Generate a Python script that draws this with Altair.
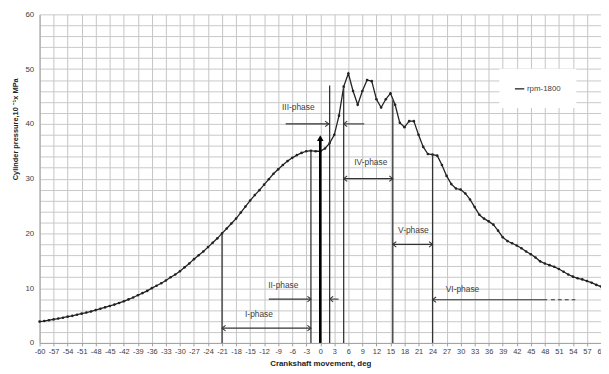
import altair as alt
import pandas as pd

# ---- data ----
deg = list(range(-60, 61))
pressure = [
    3.9, 4.0, 4.15, 4.3, 4.45, 4.6, 4.8, 4.95, 5.15, 5.35,
    5.55, 5.75, 6.0, 6.25, 6.5, 6.75, 7.0, 7.3, 7.6, 7.95,
    8.3, 8.7, 9.1, 9.5, 10.0, 10.45, 10.9, 11.4, 12.0, 12.5,
    13.1, 13.8, 14.5, 15.3, 16.0, 16.7, 17.5, 18.3, 19.1, 20.0,
    20.9, 21.8, 22.7, 23.8, 24.9, 26.0, 27.0, 27.9, 28.9, 29.9,
    30.9, 31.7, 32.5, 33.2, 33.8, 34.3, 34.7, 35.0, 35.1, 35.0,
    35.0, 35.5, 36.5, 38.0, 41.5, 46.8, 49.2, 46.0, 43.5, 46.0,
    48.0, 47.8, 44.5, 43.0, 44.5, 45.6, 43.5, 40.2, 39.4, 40.5,
    40.5, 38.0, 35.8, 34.5, 34.4, 34.2, 32.5, 30.5, 29.0, 28.2,
    28.0, 27.3, 26.2, 24.8, 23.4, 22.7, 22.2, 21.6, 20.5, 19.3,
    18.6, 18.2, 17.8, 17.3, 16.7, 16.2, 15.6, 14.9, 14.5, 14.2,
    13.9, 13.5, 13.0, 12.5, 12.1, 11.8, 11.6, 11.3, 11.0, 10.6,
    10.3,
]
series_name = "rpm-1800"

# phase boundary lines (deg, top value)
vline_x = [-21, -2, 2, 5, 15.5, 24]
vline_top = [20.0, 35.1, 47.0, 46.8, 44.3, 34.4]
tdc_x = [0]
tdc_top = [37.4]

# horizontal arrow shafts
seg_x = [-21, -11, 2, -7.4, 5, 5, 15.5, 24]
seg_x2 = [-2, -2, 3.9, 1.8, 9.4, 15.5, 24, 48.5]
seg_y = [2.7, 8.0, 8.0, 40.0, 40.0, 30.0, 18.0, 7.9]
dash_x = [49.3]
dash_x2 = [54.5]
dash_y = [7.9]

# arrow heads
head_r_x = [-2, -2, 1.8, 15.5, 24]
head_r_y = [2.7, 8.0, 40.0, 30.0, 18.0]
head_l_x = [-21, 2, 5, 5, 15.5, 24]
head_l_y = [2.7, 8.0, 40.0, 30.0, 18.0, 7.9]

# phase labels
label_text = ["I-phase", "II-phase", "III-phase", "IV-phase", "V-phase", "VI-phase"]
label_x = [-13.1, -7.9, -4.7, 10.8, 19.9, 30.4]
label_y = [5.2, 10.6, 43.0, 33.0, 20.6, 9.8]

x_ticks = list(range(-60, 61, 3))
y_grid = list(range(0, 61, 2))

FONT = "Liberation Sans"

curve = pd.DataFrame({"deg": deg, "p": pressure, "series": series_name})
vl = pd.DataFrame({"x": vline_x, "top": vline_top})
tdc = pd.DataFrame({"x": tdc_x, "top": tdc_top})
segs = pd.DataFrame({"x": seg_x, "x2": seg_x2, "y": seg_y})
dashes = pd.DataFrame({"x": dash_x, "x2": dash_x2, "y": dash_y})
hr = pd.DataFrame({"x": head_r_x, "y": head_r_y})
hl = pd.DataFrame({"x": head_l_x, "y": head_l_y})
labels = pd.DataFrame({"t": label_text, "x": label_x, "y": label_y})

xscale = alt.Scale(domain=[-60, 60], nice=False, zero=False)
yscale = alt.Scale(domain=[0, 60], nice=False)

x_axis = alt.Axis(
    values=x_ticks, title="Crankshaft  movement, deg", grid=True,
    gridColor="#c4c4c4", gridWidth=1, domainColor="#a0a0a0",
    tickColor="#a0a0a0", tickSize=3, labelPadding=2,
    labelExpr="'' + datum.value",
    labelFontSize=7.5, labelColor="#404040", labelFont=FONT,
    titleFont=FONT, titleFontSize=8, titleFontWeight="bold",
    titleColor="#222222", titlePadding=4, labelFlush=False,
    labelOverlap=False,
)
y_axis = alt.Axis(
    values=y_grid, title="Cylinder pressure,10 \u207b\u00b9x MPa", grid=True,
    gridColor="#c8c8c8", gridWidth=1, domainColor="#a0a0a0",
    ticks=False, labelPadding=6,
    labelExpr="datum.value % 10 == 0 ? '' + datum.value : ''",
    labelFontSize=8, labelColor="#404040", labelFont=FONT,
    labelOverlap=False,
    titleFont=FONT, titleFontSize=7.5, titleFontWeight="bold",
    titleColor="#222222", titleAngle=270, titleX=-24, titleY=116,
    titleAlign="center", titleBaseline="middle",
)


def X(field):
    return alt.X(field, scale=xscale, axis=x_axis)


def Y(field):
    return alt.Y(field, scale=yscale, axis=y_axis)


line = alt.Chart(curve).mark_line(
    strokeWidth=1.3,
    point=alt.OverlayMarkDef(size=7, filled=True, color="#222222"),
).encode(
    x=X("deg:Q"),
    y=Y("p:Q"),
    color=alt.Color(
        "series:N",
        scale=alt.Scale(range=["#222222"]),
        legend=alt.Legend(
            title=None, orient="none", legendX=466, legendY=55,
            fillColor="white", padding=15, symbolType="stroke",
            symbolStrokeWidth=1.3, symbolSize=90, labelFont=FONT,
            labelFontSize=8, labelColor="#404040", labelOffset=2,
        ),
    ),
)

vrules = alt.Chart(vl).mark_rule(color="#333333", strokeWidth=1.3).encode(
    x=X("x:Q"), y=Y("top:Q"), y2=alt.datum(0)
)
tdc_rule = alt.Chart(tdc).mark_rule(color="#000000", strokeWidth=2.6).encode(
    x=X("x:Q"), y=Y("top:Q"), y2=alt.datum(0)
)
tdc_head = alt.Chart(tdc).mark_point(
    shape="triangle-up", filled=True, color="#000000", size=45, opacity=1
).encode(x=X("x:Q"), y=Y("top:Q"))

shafts = alt.Chart(segs).mark_rule(color="#333333", strokeWidth=1.1).encode(
    x=X("x:Q"), x2="x2:Q", y=Y("y:Q")
)
dash = alt.Chart(dashes).mark_rule(
    color="#333333", strokeWidth=1.1, strokeDash=[4, 3]
).encode(x=X("x:Q"), x2="x2:Q", y=Y("y:Q"))

right_path = "M -1.3 -1 L 0 0 L -1.3 1"
left_path = "M 1.3 -1 L 0 0 L 1.3 1"
heads_r = alt.Chart(hr).mark_point(
    shape=right_path, filled=False, color="#333333", size=30,
    strokeWidth=1.1, opacity=1,
).encode(x=X("x:Q"), y=Y("y:Q"))
heads_l = alt.Chart(hl).mark_point(
    shape=left_path, filled=False, color="#333333", size=30,
    strokeWidth=1.1, opacity=1,
).encode(x=X("x:Q"), y=Y("y:Q"))

texts = alt.Chart(labels).mark_text(
    font=FONT, fontSize=8.5, color="#404040", align="center", baseline="middle"
).encode(x=X("x:Q"), y=Y("y:Q"), text="t:N")

chart = alt.layer(
    line, vrules, tdc_rule, tdc_head, shafts, dash, heads_r, heads_l, texts
).properties(
    width=569, height=333,
    autosize=alt.AutoSizeParams(type="none"),
    padding={"left": 32, "top": 4, "right": 0, "bottom": 26},
).configure_view(stroke=None)

chart.save("out.html", embed_options={"renderer": "svg", "actions": False})
